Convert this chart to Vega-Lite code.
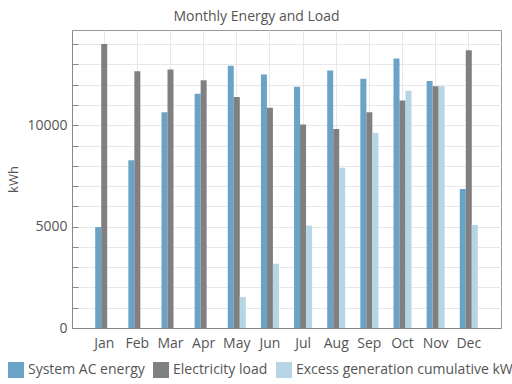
{
  "$schema": "https://vega.github.io/schema/vega-lite/v6.json",
  "width": 429,
  "height": 298,
  "autosize": {"type": "none"},
  "padding": {"left": 72, "top": 30, "right": 11, "bottom": 56},
  "background": "white",
  "title": {"text": "Monthly Energy and Load", "fontSize": 14, "font": "Open Sans", "fontWeight": "normal", "color": "#555555", "dx": -30, "offset": 6},
  "config": {
    "view": {"stroke": "#999999", "strokeWidth": 1},
    "font": "Open Sans"
  },
  "data": {"values": [
    {"month": "Jan", "series": "System AC energy", "value": 4980},
    {"month": "Jan", "series": "Electricity load", "value": 14010},
    {"month": "Jan", "series": "Excess generation cumulative kWh", "value": 0},
    {"month": "Feb", "series": "System AC energy", "value": 8270},
    {"month": "Feb", "series": "Electricity load", "value": 12660},
    {"month": "Feb", "series": "Excess generation cumulative kWh", "value": 0},
    {"month": "Mar", "series": "System AC energy", "value": 10640},
    {"month": "Mar", "series": "Electricity load", "value": 12750},
    {"month": "Mar", "series": "Excess generation cumulative kWh", "value": 0},
    {"month": "Apr", "series": "System AC energy", "value": 11560},
    {"month": "Apr", "series": "Electricity load", "value": 12220},
    {"month": "Apr", "series": "Excess generation cumulative kWh", "value": 0},
    {"month": "May", "series": "System AC energy", "value": 12940},
    {"month": "May", "series": "Electricity load", "value": 11400},
    {"month": "May", "series": "Excess generation cumulative kWh", "value": 1530},
    {"month": "Jun", "series": "System AC energy", "value": 12500},
    {"month": "Jun", "series": "Electricity load", "value": 10870},
    {"month": "Jun", "series": "Excess generation cumulative kWh", "value": 3170},
    {"month": "Jul", "series": "System AC energy", "value": 11900},
    {"month": "Jul", "series": "Electricity load", "value": 10040},
    {"month": "Jul", "series": "Excess generation cumulative kWh", "value": 5050},
    {"month": "Aug", "series": "System AC energy", "value": 12700},
    {"month": "Aug", "series": "Electricity load", "value": 9820},
    {"month": "Aug", "series": "Excess generation cumulative kWh", "value": 7910},
    {"month": "Sep", "series": "System AC energy", "value": 12300},
    {"month": "Sep", "series": "Electricity load", "value": 10640},
    {"month": "Sep", "series": "Excess generation cumulative kWh", "value": 9620},
    {"month": "Oct", "series": "System AC energy", "value": 13290},
    {"month": "Oct", "series": "Electricity load", "value": 11220},
    {"month": "Oct", "series": "Excess generation cumulative kWh", "value": 11700},
    {"month": "Nov", "series": "System AC energy", "value": 12190},
    {"month": "Nov", "series": "Electricity load", "value": 11920},
    {"month": "Nov", "series": "Excess generation cumulative kWh", "value": 11920},
    {"month": "Dec", "series": "System AC energy", "value": 6860},
    {"month": "Dec", "series": "Electricity load", "value": 13700},
    {"month": "Dec", "series": "Excess generation cumulative kWh", "value": 5080}
  ]},
  "mark": {"type": "bar"},
  "encoding": {
    "x": {
      "field": "month", "type": "ordinal",
      "sort": ["Jan","Feb","Mar","Apr","May","Jun","Jul","Aug","Sep","Oct","Nov","Dec"],
      "scale": {"paddingInner": 0.456, "paddingOuter": 0.7},
      "axis": {"title": null, "labelAngle": 0, "labelFontSize": 14, "labelColor": "#555555", "labelPadding": 15,
               "tickSize": -7, "tickColor": "#333333", "domainColor": "#888888", "bandPosition": 0.5,
               "grid": true, "gridColor": "#e8e8e8", "labelFont": "Open Sans"}
    },
    "xOffset": {
      "field": "series",
      "sort": ["System AC energy","Electricity load","Excess generation cumulative kWh"],
      "scale": {"paddingInner": 0, "paddingOuter": 0}
    },
    "y": {
      "field": "value", "type": "quantitative",
      "scale": {"domain": [0, 14700], "nice": false, "zero": true},
      "axis": {"title": "kWh", "titleFontSize": 13, "titleFontWeight": "normal", "titleColor": "#555555", "titlePadding": 6,
               "values": [0,1000,2000,3000,4000,5000,6000,7000,8000,9000,10000,11000,12000,13000,14000],
               "labelExpr": "datum.value % 5000 === 0 ? datum.label : ''",
               "format": "d",
               "labelFontSize": 14, "labelColor": "#555555", "labelPadding": 11,
               "tickSize": -6, "tickColor": "#888888", "domainColor": "#888888",
               "grid": true, "gridColor": "#e8e8e8"}
    },
    "color": {
      "field": "series", "type": "nominal",
      "scale": {"domain": ["System AC energy","Electricity load","Excess generation cumulative kWh"],
                "range": ["#6aa3c6","#808080","#b6d5e5"]},
      "legend": {"title": null, "orient": "none", "legendX": -64, "legendY": 332, "direction": "horizontal",
                 "symbolType": "square", "symbolSize": 256, "symbolStrokeWidth": 0, "symbolOpacity": 1,
                 "labelFontSize": 14, "labelColor": "#555555", "columnPadding": 8, "labelOffset": 4, "labelLimit": 400}
    }
  }
}
